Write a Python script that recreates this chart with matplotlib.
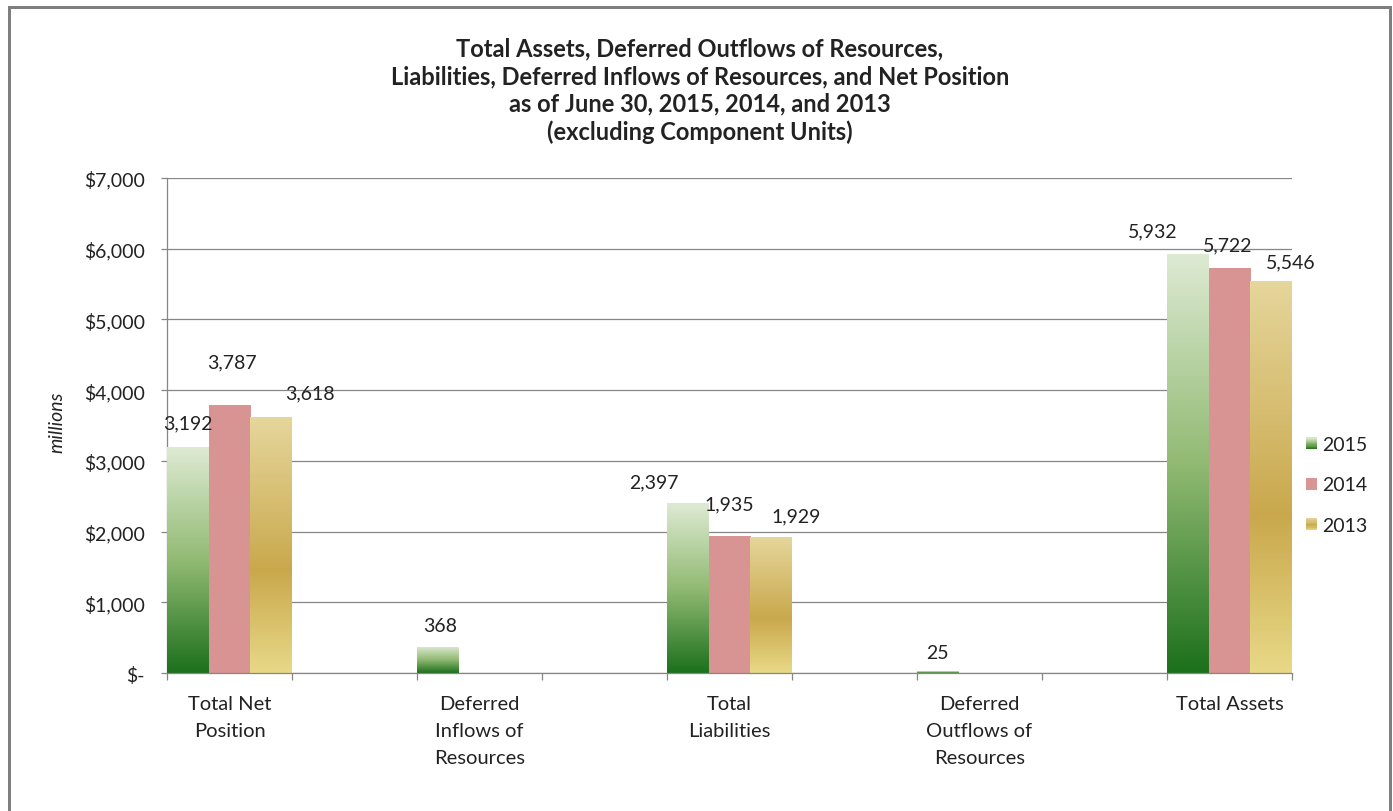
import numpy as np
import matplotlib
matplotlib.use("Agg")
import matplotlib.pyplot as plt
from matplotlib.patches import Rectangle
from matplotlib.lines import Line2D
from matplotlib.legend_handler import HandlerBase
from matplotlib.ticker import FixedLocator, FuncFormatter

# ---------------- data ----------------
categories = ["Total Net\nPosition", "Deferred\nInflows of\nResources", "Total\nLiabilities",
              "Deferred\nOutflows of\nResources", "Total Assets"]
series_names = ["2015", "2014", "2013"]
values_2015 = [3192, 368, 2397, 25, 5932]
values_2014 = [3787, np.nan, 1935, np.nan, 5722]
values_2013 = [3618, np.nan, 1929, np.nan, 5546]
y_ticks = [0, 1000, 2000, 3000, 4000, 5000, 6000, 7000]
title_lines = ["Total Assets, Deferred Outflows of Resources,",
               "Liabilities, Deferred Inflows of Resources, and Net Position",
               "as of June 30, 2015, 2014, and 2013",
               "(excluding Component Units)"]
y_label = "millions"

# ---------------- style ----------------
FONT = "Lato"
plt.rcParams["font.family"] = [FONT, "DejaVu Sans"]
W, H = 1393, 812
DPI = 100
PX = 72.0 / DPI  # points per pixel

green_stops = [(0.0, (0.11, 0.44, 0.11)), (0.5, (0.57, 0.73, 0.45)), (1.0, (0.87, 0.92, 0.83))]
pink_stops = [(0.0, (0.85, 0.58, 0.58)), (1.0, (0.85, 0.58, 0.58))]
gold_stops = [(0.0, (0.91, 0.85, 0.53)), (0.4, (0.79, 0.66, 0.30)), (1.0, (0.90, 0.84, 0.61))]
series_stops = [green_stops, pink_stops, gold_stops]
series_values = [values_2015, values_2014, values_2013]

# label offsets (pixels, dx right / dy up from bar top-center)
label_offsets = [
    [(0, 24), (2, 21), (-34, 22), (0, 19), (-35, 23)],
    [(2, 43), None, (0, 32), None, (-2, 23)],
    [(39, 24), None, (25, 21), None, (20, 19)],
]

grid_color = "#868686"
text_color = "#222222"


def interp_stops(stops, t):
    ts = [s[0] for s in stops]
    cols = np.array([s[1] for s in stops])
    return np.array([np.interp(t, ts, cols[:, k]) for k in range(3)])


def gradient_image(stops, n=256):
    t = np.linspace(0, 1, n)
    img = np.stack([interp_stops(stops, tt) for tt in t])
    return img[:, None, :]


fig = plt.figure(figsize=(W / DPI, H / DPI), dpi=DPI)
fig.patch.set_facecolor("white")

ax_l, ax_r = 167 / W, 1292 / W
ax_b, ax_t = 1 - 674 / H, 1 - 179 / H
ax = fig.add_axes([ax_l, ax_b, ax_r - ax_l, ax_t - ax_b])
ax.set_facecolor("white")

n_cat = len(categories)
centers = np.arange(n_cat) * 2.0
bw = 1.0 / 3.0
shifts = [-bw, 0.0, bw]

ax.set_xlim(-0.5, centers[-1] + 0.5)
ax.set_ylim(y_ticks[0], y_ticks[-1])

for s_idx, (vals, stops) in enumerate(zip(series_values, series_stops)):
    vals_arr = np.array(vals, dtype=float)
    bars = ax.bar(centers + shifts[s_idx], np.nan_to_num(vals_arr), width=bw,
                  color="none", edgecolor="none", zorder=3, label=series_names[s_idx])
    img = gradient_image(stops)
    for c_idx, (bar, v) in enumerate(zip(bars, vals_arr)):
        if np.isnan(v):
            continue
        x0 = bar.get_x()
        x1 = x0 + bar.get_width()
        h = bar.get_height()
        im = ax.imshow(img, origin="lower", extent=[x0, x1, 0, h], aspect="auto",
                       zorder=3, interpolation="bilinear")
        im.set_clip_path(bar)
        off = label_offsets[s_idx][c_idx]
        if off is not None:
            ax.annotate(f"{v:,.0f}", xy=(x0 + bar.get_width() / 2, h),
                        xytext=(off[0] * PX, off[1] * PX), textcoords="offset points",
                        ha="center", va="center", fontsize=14, color=text_color,
                        zorder=5, annotation_clip=False)

# grid + spines
ax.set_yticks(y_ticks)
ax.yaxis.set_major_formatter(FuncFormatter(lambda v, p: "$-" if v == 0 else f"${v:,.0f}"))
ax.grid(axis="y", color=grid_color, linewidth=0.9, zorder=0)
ax.set_axisbelow(True)
for side in ["top", "right"]:
    ax.spines[side].set_visible(False)
for side in ["left", "bottom"]:
    ax.spines[side].set_color(grid_color)
    ax.spines[side].set_linewidth(0.9)
ax.spines["bottom"].set_zorder(4)

ax.tick_params(axis="y", direction="out", length=6 * PX, width=0.9, color=grid_color,
               pad=16 * PX, labelsize=14, labelcolor=text_color)

# x: labels at category centers, ticks at group boundaries
ax.set_xticks(centers)
ax.set_xticklabels(categories, fontsize=14.5, color=text_color, linespacing=1.72)
ax.tick_params(axis="x", which="major", length=0, pad=22 * PX)
bounds = [c + d for c in centers for d in (-0.5, 0.5)]
ax.xaxis.set_minor_locator(FixedLocator(bounds))
ax.tick_params(axis="x", which="minor", direction="out", length=7 * PX, width=0.9,
               color=grid_color)

fig.text(57 / W, 1 - 422 / H, y_label, rotation=90, ha="center", va="center",
         fontsize=14, style="italic", color=text_color)

# title
fig.text(700 / W, 1 - 91 / H, "\n".join(title_lines), ha="center", va="center",
         fontsize=17, fontweight="bold", color=text_color, linespacing=1.24)


# legend with gradient squares
class GradientHandler(HandlerBase):
    def __init__(self, stops, n=10):
        super().__init__()
        self.stops = stops
        self.n = n

    def create_artists(self, legend, orig_handle, xdescent, ydescent, width, height,
                       fontsize, trans):
        arts = []
        for i in range(self.n):
            col = interp_stops(self.stops, (i + 0.5) / self.n)
            r = Rectangle((-xdescent, -ydescent + i * height / self.n), width,
                          height / self.n + 0.01, facecolor=col, edgecolor="none",
                          transform=trans)
            arts.append(r)
        return arts


handles = [Rectangle((0, 0), 1, 1, label=nm) for nm in series_names]
hmap = {h: GradientHandler(st) for h, st in zip(handles, series_stops)}
fs_leg = 14
fs_px = fs_leg / PX
leg = fig.legend(handles=handles, handler_map=hmap, loc="center left",
                 bbox_to_anchor=(1306 / W, 1 - 486 / H), frameon=False,
                 fontsize=fs_leg, handlelength=11 / fs_px, handleheight=11 / fs_px,
                 handletextpad=5 / fs_px, labelspacing=1.2, borderpad=0,
                 borderaxespad=0)
for t in leg.get_texts():
    t.set_color(text_color)

# outer frame
fx0, fx1 = 9 / W, 1390 / W
fy1 = 1 - 8 / H
fig.add_artist(Line2D([fx0, fx0, fx1, fx1], [-0.02, fy1, fy1, -0.02],
                      transform=fig.transFigure, color="#7F7F7F", linewidth=3 * PX,
                      solid_joinstyle="miter"))

fig.savefig("out.png", dpi=DPI, facecolor="white")
